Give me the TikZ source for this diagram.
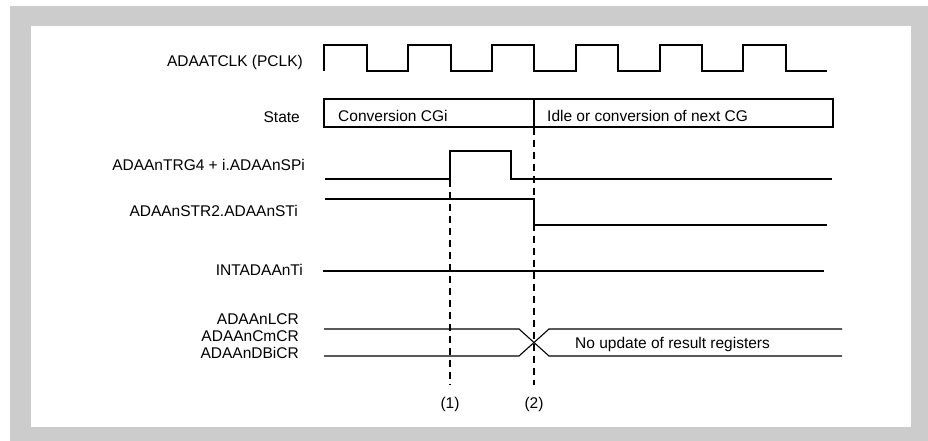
\documentclass[tikz,border=0pt]{standalone}
\usepackage{fontspec}
\setmainfont{Liberation Sans}
\begin{document}
\begin{tikzpicture}[x=1pt,y=-1pt,
  wave/.style={line width=1.1pt, line join=miter},
  guide/.style={line width=1.1pt, dash pattern=on 7pt off 5pt},
  lbl/.style={anchor=base east, inner sep=0pt, font=\fontsize{15.5}{18}\selectfont},
  txt/.style={anchor=base west, inner sep=0pt, font=\fontsize{15.5}{18}\selectfont},
  tick/.style={anchor=base, inner sep=0pt, font=\fontsize{15.5}{18}\selectfont}]
\useasboundingbox (0,0) rectangle (928,441);
\fill[black!20] (10,6) rectangle (928,441);
\fill[white] (31,26) rectangle (911,427);
% labels
\node[lbl] (lclk) at (303,66.5) {ADAATCLK (PCLK)};
\node[lbl] (lst) at (300,122) {State};
\node[lbl] (ltrg) at (305,170.5) {ADAAnTRG4 + i.ADAAnSPi};
\node[lbl] (lstr) at (298,216.5) {ADAAnSTR2.ADAAnSTi};
\node[lbl] (lint) at (303,275.5) {INTADAAnTi};
\node[lbl] (llcr) at (299,324.5) {ADAAnLCR};
\node[lbl] (lcm) at (299,341.5) {ADAAnCmCR};
\node[lbl] (ldb) at (299,358.5) {ADAAnDBiCR};
% clock
\draw[wave] (324,71) -- (324,45) -- (367,45) -- (367,71) -- (408,71) -- (408,45) -- (451,45) -- (451,71)
  -- (492,71) -- (492,45) -- (534,45) -- (534,71) -- (576,71) -- (576,45) -- (618,45) -- (618,71)
  -- (660,71) -- (660,45) -- (702,45) -- (702,71) -- (743,71) -- (743,45) -- (786,45) -- (786,71) -- (827,71);
% state
\draw[wave] (324,99) rectangle (833,127);
\draw[wave] (534,99) -- (534,127);
\node[txt] (sa) at (338,121.5) {Conversion CGi};
\node[txt] (sb) at (547,121.5) {Idle or conversion of next CG};
% trigger
\draw[wave] (325,179) -- (450,179) -- (450,151) -- (511,151) -- (511,179) -- (832,179);
% STR2
\draw[wave] (325,199) -- (534,199) -- (534,225) -- (827,225);
% INT
\draw[wave] (323,271) -- (824,271);
% registers
\draw[wave] (324,329) -- (519,329) -- (549,356) -- (842,356);
\draw[wave] (324,356) -- (519,356) -- (549,329) -- (842,329);
\node[txt] (nu) at (575,348.5) {No update of result registers};
% guides
\node[tick] (m1) at (450,408) {(1)};
\node[tick] (m2) at (534,408) {(2)};
\coordinate (g1) at (450,180);
\coordinate (g2) at (534,128);
\draw[guide] (g1) -- (g1 |- 0,385);
\draw[guide] (g2) -- (g2 |- 0,385);
\end{tikzpicture}
\end{document}
